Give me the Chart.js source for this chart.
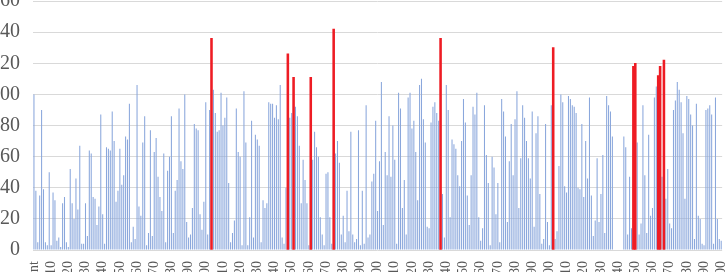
<!DOCTYPE html>
<html>
<head>
<meta charset="utf-8">
<script src="https://cdn.jsdelivr.net/npm/chart.js@4.4.1/dist/chart.umd.min.js"></script>
<style>
  html, body { margin: 0; padding: 0; background: #fff; overflow: hidden; width: 728px; height: 272px; }
  #wrap { position: absolute; left: -23px; top: -24px; width: 772px; height: 334px; }
</style>
</head>
<body>
<div id="wrap"><canvas id="chart"></canvas></div>
<script>
// bar heights, one per category (null where the bar is red)
const blueValues = [
  100, 38, 5, 35, 90, 39, 5, 3, 50, 3, 37, 32, 6, 8, 2, 30, 34, 5, 2, 52,
  30, 20, 46, 26, 67, 4, 4, 30, 9, 64, 62, 34, 33, 16, 28, 87, 23, 4, 66, 65,
  64, 89, 70, 31, 38, 65, 42, 48, 73, 71, 94, 5, 15, 7, 106, 28, 22, 69, 86, 3,
  11, 77, 9, 63, 72, 47, 34, 25, 62, 5, 51, 60, 86, 11, 38, 45, 91, 57, 52, 100,
  18, 8, 10, 27, 81, 78, 77, 23, 13, 31, 95, 10, 90, null, 103, 88, 76, 77, 101, 80,
  85, 98, 43, 5, 11, 19, 91, 63, 60, 3, 102, 69, 3, 21, 83, 8, 74, 71, 67, 5,
  32, 27, 30, 95, 94, 94, 85, 93, 84, 106, 8, 4, 40, null, 85, 88, null, 92, 86, 67,
  30, 58, 45, 30, 3, null, 58, 76, 66, 60, 21, 10, 3, 49, 50, 21, 4, null, 62, 70,
  56, 10, 22, 5, 38, 12, 76, 10, 5, 7, 77, 3, 38, 4, 93, 8, 10, 44, 49, 83,
  25, 57, 108, 16, 63, 48, 86, 47, 80, 58, 4, 101, 91, 27, 45, 10, 98, 101, 78, 83,
  63, 32, 106, 110, 84, 69, 15, 14, 82, 92, 95, 88, 83, null, 36, 8, 106, 90, 21, 71,
  68, 65, 48, 41, 70, 97, 82, 35, 16, 48, 92, 87, 101, 21, 6, 14, 93, 61, 43, 3,
  60, 53, 23, 43, 5, 97, 89, 73, 18, 57, 81, 48, 84, 102, 27, 59, 93, 85, 70, 59,
  46, 89, 15, 75, 86, 36, 4, 7, 81, 18, 3, 93, null, 7, 12, 54, 100, 95, 41, 37,
  99, 97, 93, 92, 88, 40, 39, 81, 34, 70, 46, 98, 35, 9, 19, 59, 18, 36, 61, 11,
  99, 93, 89, 73, 0, 0, 0, 0, 0, 73, 66, 10, 47, 14, null, null, 69, 10, 17, 93,
  48, 11, 74, 22, 27, 98, 105, null, null, 47, null, 33, 52, 17, 14, 90, 96, 108, 103, 95,
  75, 33, 99, 97, 87, 80, 7, 94, 22, 20, 4, 3, 90, 91, 93, 87, 4, 98, 20, 7,
  6
];

// highlighted bars: category index and value
const redIndex  = [93, 133, 136, 145, 157, 213, 272, 314, 315, 327, 328, 330];
const redHeight = [136, 126, 111, 111, 142, 136, 130, 118, 120, 112, 118, 122];

// every 9th category carries a label (only their ends show below the axis)
const tickLabels = [
  'Count', '10', '20', '30', '40', '50', '60', '70', '80', '90',
  '100', '110', '120', '130', '140', '150', '160', '170', '180', '190',
  '200', '210', '220', '230', '240', '250', '260', '270', '280', '290',
  '300', '310', '320', '330', '340', '350', '360', '370', '380', '390', '400'
];
const labelEvery = 9;

const yTicks = [0, 20, 40, 60, 80, 100, 120, 140, 160];

const categories = blueValues.map((v, i) => i % labelEvery === 0 ? tickLabels[i / labelEvery] : '');
const redValues = blueValues.map(() => null);
redIndex.forEach((idx, k) => { redValues[idx] = redHeight[k]; });

const ctx = document.getElementById('chart').getContext('2d');
new Chart(ctx, {
  type: 'bar',
  data: {
    labels: categories,
    datasets: [
      {
        data: blueValues,
        backgroundColor: '#8aa7dc',
        borderWidth: 0,
        barPercentage: 0.55,
        categoryPercentage: 1,
        grouped: false,
        order: 2
      },
      {
        data: redValues,
        backgroundColor: '#ee1c24',
        borderWidth: 0,
        barPercentage: 1,
        categoryPercentage: 1,
        grouped: false,
        order: 1
      }
    ]
  },
  options: {
    responsive: true,
    maintainAspectRatio: false,
    animation: false,
    events: [],
    layout: { padding: 0 },
    plugins: {
      legend: { display: false },
      tooltip: { enabled: false }
    },
    scales: {
      x: {
        grid: { display: false, drawTicks: false },
        border: { display: false },
        ticks: {
          autoSkip: false,
          minRotation: 90,
          maxRotation: 90,
          padding: 11,
          color: '#595959',
          font: { family: 'Liberation Serif', size: 14 }
        },
        afterFit: function (scale) { scale.height = 60; }
      },
      y: {
        min: yTicks[0],
        max: yTicks[yTicks.length - 1],
        grid: { color: '#d9d9d9', lineWidth: 1, drawTicks: false },
        border: { display: false },
        ticks: {
          stepSize: yTicks[1] - yTicks[0],
          padding: 13,
          color: '#595959',
          font: { family: 'Liberation Serif', size: 20 }
        }
      }
    }
  }
});
</script>
</body>
</html>
